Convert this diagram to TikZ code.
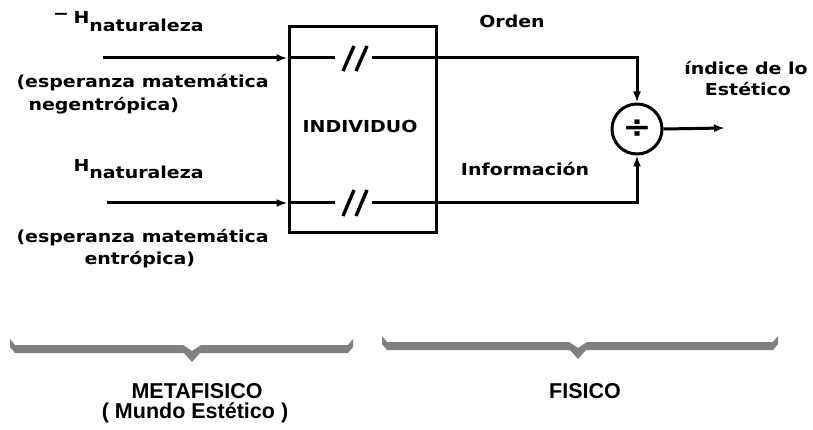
\documentclass[tikz,border=0pt]{standalone}
\usepackage{fontspec}
\setmainfont{DejaVu Sans}[FakeStretch=1.15]
\newfontfamily\lowfont{Liberation Sans}
\usetikzlibrary{arrows.meta,calc}

\begin{document}
\begin{tikzpicture}[x=1pt, y=-1pt, >={Latex[length=11pt,width=8pt]},
  line width=3pt,
  lbl/.style={font=\fontsize{16.5}{20}\selectfont\bfseries, inner sep=0pt},
  low/.style={font=\lowfont\fontsize{21.5}{24}\selectfont\bfseries, inner sep=0pt},
  slash/.style={line width=3.4pt},
  brace/.style={fill=gray, draw=none}]
  \useasboundingbox (0,0) rectangle (813,430);

  %% Left side: inputs
  \node[lbl, anchor=base] (minusH) at (61,20) {−};
  \node[lbl, anchor=base west] (hTop) at (72,24) {H\raisebox{-8pt}{naturaleza}};
  \node[lbl, anchor=base west] (espTop) at (15,88) {(esperanza matemática};
  \node[lbl, anchor=base west] (negTop) at (27,111) {negentrópica)};
  \node[lbl, anchor=base west] (hBot) at (72,172) {H\raisebox{-7pt}{naturaleza}};
  \node[lbl, anchor=base west] (espBot) at (15,243) {(esperanza matemática};
  \node[lbl, anchor=base west] (entBot) at (83,265) {entrópica)};

  %% Individuo box
  \node[draw, minimum width=147pt, minimum height=206pt, inner sep=0pt]
    (indiv) at (362.5,130) {};
  \node[lbl, anchor=base] (indivlbl) at (360,133) {INDIVIDUO};

  %% Division node
  \node[draw, circle, minimum size=50pt, inner sep=0pt,
        font=\fontsize{30}{30}\selectfont\bfseries] (div) at (637,129) {÷};

  %% Right side labels
  \node[lbl, anchor=base] (orden) at (512,28) {Orden};
  \node[lbl, anchor=base] (info) at (525,176) {Información};
  \node[lbl, anchor=base] (indice) at (746,75) {índice de lo};
  \node[lbl, anchor=base] (estetico) at (748,96) {Estético};

  %% Connectors
  \coordinate (inTop) at (103,58);
  \coordinate (inBot) at (107,203);
  \coordinate (gapTL) at (335,58);
  \coordinate (gapTR) at (372,58);
  \coordinate (gapBL) at (335,203);
  \coordinate (gapBR) at (372,203);
  \coordinate (out) at (725,128);

  \draw[->] (inTop) -- (inTop -| indiv.west);
  \draw (inTop -| indiv.west) -- (gapTL);
  \draw[->] (gapTR) -| (div.north);
  \draw[->] (inBot) -- (inBot -| indiv.west);
  \draw (inBot -| indiv.west) -- (gapBL);
  \draw[->] (gapBR) -| (div.south);
  \draw[->] (div.east) -- (out);

  %% Slash marks
  \draw[slash] (343,71) -- (354,46) (356,71) -- (367,46);
  \draw[slash] (343,216) -- (354,190) (356,216) -- (367,190);

  %% Braces
  \fill[brace] (10,339) -- (15,345) -- (183,345) -- (192,351) -- (201,345)
    -- (348,345) -- (353,339) -- (353,347) -- (348,353) -- (200,353)
    -- (192,362) -- (184,353) -- (15,353) -- (10,347) -- cycle;
  \fill[brace] (382,336) -- (387,342) -- (569,342) -- (578,348) -- (587,342)
    -- (773,342) -- (778,336) -- (778,344) -- (773,350) -- (586,350)
    -- (578,359) -- (570,350) -- (387,350) -- (382,344) -- cycle;

  %% Bottom labels
  \node[low, anchor=base] (meta) at (197,398) {METAFISICO};
  \node[low, anchor=base] (mundo) at (195,418) {( Mundo Estético )};
  \node[low, anchor=base] (fisico) at (585,398) {FISICO};
\end{tikzpicture}
\end{document}
